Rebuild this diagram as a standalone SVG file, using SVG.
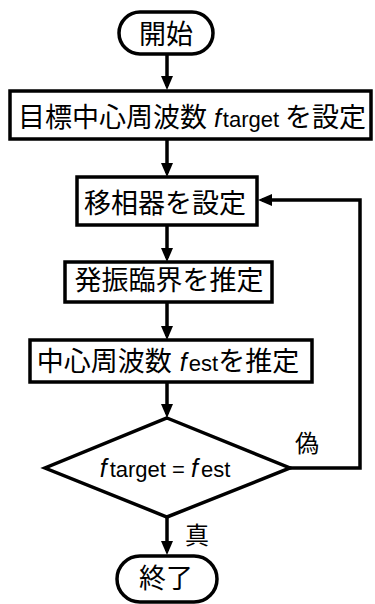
<svg xmlns="http://www.w3.org/2000/svg" width="375" height="604" viewBox="0 0 375 604">
<style>
.shape{fill:#fff;stroke:#000;stroke-width:3.5}
.edge{fill:none;stroke:#000;stroke-width:3.5}
text{font-family:"Noto Sans CJK JP","Liberation Sans",sans-serif;font-size:27px;fill:#000}
.lat{font-family:"Liberation Sans",Arial,sans-serif;font-size:22px}
.it{font-family:"Liberation Sans",Arial,sans-serif;font-size:25px;font-style:italic}
.lbl{font-size:24px}
</style>
<defs>
<marker id="arr" viewBox="0 0 14 12" refX="10" refY="6" markerWidth="14" markerHeight="12" markerUnits="userSpaceOnUse" orient="auto">
<path d="M0,0 L14,6 L0,12 Z" fill="#000"/>
</marker>
</defs>
<g id="connectors">
<path class="edge" d="M167,54 V86" marker-end="url(#arr)"/>
<path class="edge" d="M167,140 V173" marker-end="url(#arr)"/>
<path class="edge" d="M167,226 V258" marker-end="url(#arr)"/>
<path class="edge" d="M167,303 V336" marker-end="url(#arr)"/>
<path class="edge" d="M167,383 V414" marker-end="url(#arr)"/>
<path class="edge" d="M167,517 V551" marker-end="url(#arr)"/>
<path class="edge" d="M290,468 H360 V200 H262" marker-end="url(#arr)"/>
<text class="lbl" x="295" y="452">偽</text>
<text class="lbl" x="185" y="544">真</text>
</g>
<g id="start">
<rect class="shape" x="119" y="12" width="94" height="42" rx="21" ry="21"/>
<text x="166" y="44" text-anchor="middle">開始</text>
</g>
<g id="set-target">
<rect class="shape" x="10" y="91" width="361" height="48"/>
<text x="192" y="127" text-anchor="middle">目標中心周波数<tspan class="it" dx="7">f</tspan><tspan class="lat" dx="2">target</tspan><tspan dx="6">を設定</tspan></text>
</g>
<g id="set-phase">
<rect class="shape" x="77" y="177" width="180" height="48"/>
<text x="165" y="213" text-anchor="middle">移相器を設定</text>
</g>
<g id="estimate-critical">
<rect class="shape" x="65" y="262" width="207" height="40"/>
<text x="169" y="290" text-anchor="middle">発振臨界を推定</text>
</g>
<g id="estimate-freq">
<rect class="shape" x="30" y="340" width="282" height="42"/>
<text x="168" y="371" text-anchor="middle">中心周波数<tspan class="it" dx="8">f</tspan><tspan class="lat" dx="2">est</tspan>を推定</text>
</g>
<g id="decision">
<polygon class="shape" points="167,418 290,468 167,517 45,468"/>
<text x="165" y="477" text-anchor="middle"><tspan class="it" font-size="26">f</tspan><tspan class="lat" dx="3" font-size="23">target = </tspan><tspan class="it" font-size="26">f</tspan><tspan class="lat" dx="3" font-size="23">est</tspan></text>
</g>
<g id="end">
<rect class="shape" x="117" y="556" width="100" height="46" rx="23" ry="23"/>
<text x="166" y="588" text-anchor="middle">終了</text>
</g>
</svg>
